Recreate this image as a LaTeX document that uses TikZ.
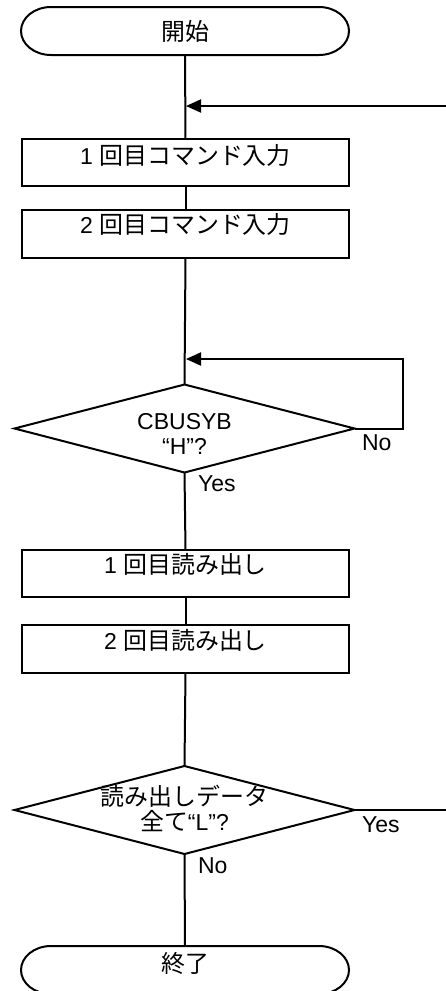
\documentclass[tikz,border=0pt]{standalone}
\usepackage{fontspec}
\setmainfont{Liberation Sans}
\newfontfamily\jp{Noto Sans CJK JP}[Scale=1.04]
\usetikzlibrary{arrows.meta,shapes.geometric}
\begin{document}
\begin{tikzpicture}[x=1pt,y=-1pt,
  every node/.style={inner sep=0pt,outer sep=0pt,font=\fontsize{23}{25}\selectfont},
  ln/.style={line width=2pt,draw=black},
  arr/.style={ln,-{Triangle[length=15pt,width=13pt]},shorten >=1pt},
  termbox/.style={minimum width=328pt,minimum height=48pt},
  procbox/.style={draw,line width=2pt,minimum width=327.5pt,minimum height=47.5pt},
  decbox/.style={draw,diamond,line width=2pt,minimum width=340pt,minimum height=88pt,aspect=3.86},
  lbl/.style={anchor=west}]
\useasboundingbox (0,0) rectangle (446,991);
\begin{scope}
\clip (0,0) rectangle (446,991);
% terminals
\node[termbox] (start) at (185,31) {\jp 開始};
\draw[ln] ([xshift=30pt]start.north west) -- ([xshift=-30pt]start.north east)
  arc[start angle=90,end angle=-90,x radius=30pt,y radius=24pt]
  -- ([xshift=30pt]start.south west)
  arc[start angle=270,end angle=90,x radius=30pt,y radius=24pt] -- cycle;
\node[termbox] (end) at (185,970) {};
\node (endt) at (185,963) {\jp 終了};
\draw[ln] ([xshift=30pt]end.north west) -- ([xshift=-30pt]end.north east)
  arc[start angle=90,end angle=-90,x radius=30pt,y radius=24pt]
  -- ([xshift=30pt]end.south west)
  arc[start angle=270,end angle=90,x radius=30pt,y radius=24pt] -- cycle;
% process boxes
\node[procbox] (b1) at (185.5,162.5) {};
\node (b1t) at (185.5,155) {1 {\jp 回目コマンド入力}};
\node[procbox] (b2) at (185.5,234) {};
\node (b2t) at (185.5,224) {2 {\jp 回目コマンド入力}};
\node[procbox] (b3) at (185.5,573.5) {};
\node (b3t) at (185.5,564) {1 {\jp 回目読み出し}};
\node[procbox] (b4) at (185.5,648.8) {};
\node (b4t) at (185.5,640) {2 {\jp 回目読み出し}};
% decisions
\node[decbox] (d1) at (184.5,428.5) {};
\node[align=center] (d1t) at (184.5,434) {CBUSYB\\“H”?};
\node[decbox] (d2) at (184.5,810) {};
\node[align=center] (d2t) at (184.5,808) {{\jp 読み出しデータ}\\{\jp 全て}“L”?};
% join points
\coordinate (j1) at (185,106);
\coordinate (in1) at (446,106);
\coordinate (j2) at (185,359);
\coordinate (loopr) at (403,359);
\coordinate (out1) at (446,810);
% main line
\draw[ln] (start.south) -- (b1.north);
\draw[ln] (b1.south) -- (b2.north);
\draw[ln] (b2.south) -- (d1.north);
\draw[ln] (d1.south) -- (b3.north);
\draw[ln] (b3.south) -- (b4.north);
\draw[ln] (b4.south) -- (d2.north);
\draw[ln] (d2.south) -- (end.north);
% arrows
\draw[arr] (in1) -- (j1);
\draw[arr] (d1.east) -| (loopr) -- (j2);
\draw[ln] (d2.east) -- (out1);
% labels
\node[lbl] (no1) at (362,443) {No};
\node[lbl] (yes1) at (198,484) {Yes};
\node[lbl] (yes2) at (362,825) {Yes};
\node[lbl] (no2) at (198,866) {No};
\end{scope}
\end{tikzpicture}
\end{document}
